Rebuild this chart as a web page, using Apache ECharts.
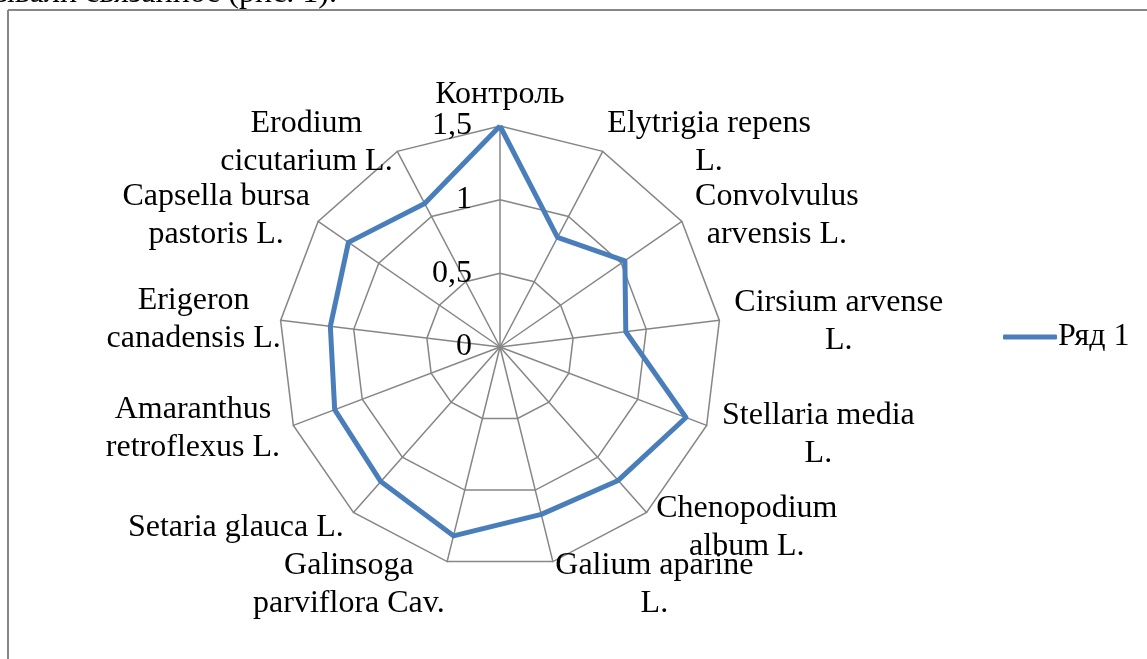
<!DOCTYPE html>
<html>
<head>
<meta charset="utf-8">
<script src="https://cdn.jsdelivr.net/npm/echarts@6/dist/echarts.min.js"></script>
<style>
html,body{margin:0;padding:0;background:#fff;}
#main{width:1147px;height:659px;}
</style>
</head>
<body>
<div id="main"></div>
<script>
// Categories in clockwise order starting from top
var categories = [
  "Контроль",
  "Elytrigia repens\nL.",
  "Convolvulus\narvensis L.",
  "Cirsium arvense\nL.",
  "Stellaria media\nL.",
  "Chenopodium\nalbum L.",
  "Galium aparine\nL.",
  "Galinsoga\nparviflora Cav.",
  "Setaria glauca L.",
  "Amaranthus\nretroflexus L.",
  "Erigeron\ncanadensis L.",
  "Capsella bursa\npastoris L.",
  "Erodium\ncicutarium L."
];
var seriesName = "Ряд 1";
var values = [1.50, 0.84, 1.03, 0.86, 1.35, 1.21, 1.17, 1.32, 1.22, 1.20, 1.16, 1.25, 1.10];
var tickValues = [0, 0.5, 1, 1.5];
var axisMax = 1.5;
var headerText = "ывали связанное (рис. 1).";

// label nudges [dx, dy] in px (style only), by category index
var labelShift = {0:[0,-2], 2:[5,0], 3:[5,2], 4:[6,6], 5:[3,8], 6:[0,13], 7:[0,13], 8:[-3,8], 9:[-4,0], 10:[10,0]};

var FONT = "'Liberation Serif', 'Times New Roman', serif";
var FS = 32;

// ECharts radar goes counter-clockwise; reorder to draw clockwise
function toCCW(arr){ return [arr[0]].concat(arr.slice(1).reverse()); }
var cats = toCCW(categories);
var vals = toCCW(values);

var rich = {};
categories.forEach(function(c, i){
  var s = labelShift[i] || [0,0];
  rich['l'+i] = {align:'center', fontSize: FS, lineHeight: 38, fontFamily: FONT, color:'#000',
    padding: [s[1], -s[0], -s[1], s[0]]};
});

var chart = echarts.init(document.getElementById('main'), null, {renderer:'canvas'});
var option = {
  backgroundColor: '#fff',
  animation: false,
  textStyle: {fontFamily: FONT},
  graphic: [
    {type:'line', shape:{x1:8, y1:10, x2:1147, y2:10}, style:{stroke:'#868686', lineWidth:2}},
    {type:'line', shape:{x1:8, y1:10, x2:8, y2:659}, style:{stroke:'#868686', lineWidth:2}},
    {type:'text', x: 337, y: -22, style:{text: headerText, font: FS + 'px ' + FONT, fill:'#000', align:'right', verticalAlign:'top'}}
  ],
  legend: {
    data: [seriesName],
    left: 998,
    top: 316,
    icon: 'roundRect',
    itemWidth: 54,
    itemHeight: 5,
    itemGap: 10,
    textStyle: {fontSize: FS, color:'#000', fontFamily: FONT, padding:[0,0,0,-4]}
  },
  radar: {
    center: [500, 347],
    radius: 221,
    startAngle: 90,
    shape: 'polygon',
    splitNumber: 3,
    nameGap: 10,
    indicator: cats.map(function(c){ return {name:c, min:0, max:axisMax}; }),
    axisName: {
      color:'#000',
      fontSize: FS,
      fontFamily: FONT,
      formatter: function(n){
        var i = categories.indexOf(n);
        return n.split('\n').map(function(l){return '{l'+i+'|'+l+'}';}).join('\n');
      },
      rich: rich
    },
    axisLine: {lineStyle:{color:'#868686', width:1.5}},
    splitLine: {lineStyle:{color:'#868686', width:1.5}},
    splitArea: {show:false},
    axisTick: {show:false},
    axisLabel: {show:false}
  },
  polar: {center:[500,347], radius:221},
  angleAxis: {type:'value', startAngle:90, min:0, max:360, show:false},
  radiusAxis: {
    type:'value', min: tickValues[0], max: tickValues[tickValues.length-1], interval: tickValues[1]-tickValues[0],
    axisLine:{show:false}, axisTick:{show:false}, splitLine:{show:false},
    axisLabel:{show:true, fontSize: FS, color:'#000', fontFamily: FONT, margin: 28,
      formatter: function(v){ return String(v).replace('.', ','); }}
  },
  series: [{
    name: seriesName,
    type: 'radar',
    symbol: 'none',
    lineStyle: {color:'#4A7EBB', width:5},
    itemStyle: {color:'#4A7EBB'},
    data: [{value: vals, name: seriesName}]
  }]
};
chart.setOption(option);
</script>
</body>
</html>
